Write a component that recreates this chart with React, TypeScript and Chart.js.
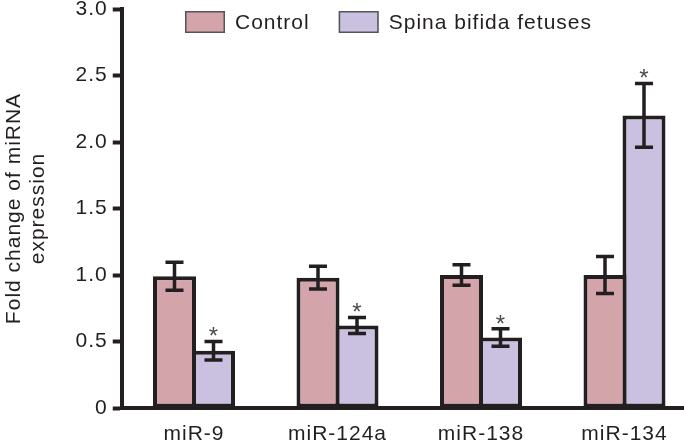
import React, { useEffect, useRef } from 'react';
import { Chart, registerables } from 'chart.js';

Chart.register(...registerables);

const categories = ['miR-9', 'miR-124a', 'miR-138', 'miR-134'];
const seriesLabels = ['Control', 'Spina bifida fetuses'];
const controlValues = [0.99, 0.98, 1.0, 1.0];
const controlErrors = [0.105, 0.085, 0.078, 0.14];
const spinaValues = [0.43, 0.62, 0.53, 2.2];
const spinaErrors = [0.07, 0.06, 0.065, 0.24];
const controlSignificant = [false, false, false, false];
const spinaSignificant = [true, true, true, true];
const yTitleLines = ['Fold change of miRNA', 'expression'];

const INK = '#231f20';
const FAMILY = '"Liberation Sans", Arial, Helvetica, sans-serif';
const FONT_SIZE = 21;
const SPACING = '1px';
const CONTROL_COLOR = '#d3a5aa';
const SPINA_COLOR = '#cac1e0';

const spacingPlugin = {
  id: 'letterSpacing',
  beforeUpdate(chart: any) {
    (chart.ctx as any).letterSpacing = SPACING;
  },
  beforeDraw(chart: any) {
    (chart.ctx as any).letterSpacing = SPACING;
  },
};

const errorBarPlugin = {
  id: 'errorBars',
  afterDatasetsDraw(chart: any) {
    const ctx = chart.ctx;
    const yScale = chart.scales.y;
    chart.data.datasets.forEach((ds: any, di: number) => {
      const meta = chart.getDatasetMeta(di);
      meta.data.forEach((bar: any, i: number) => {
        const v = ds.data[i];
        const e = ds.errors[i];
        const top = yScale.getPixelForValue(v + e);
        const bot = yScale.getPixelForValue(v - e);
        const x = bar.x;
        ctx.save();
        ctx.strokeStyle = INK;
        ctx.lineWidth = 3.5;
        ctx.lineCap = 'butt';
        ctx.beginPath();
        ctx.moveTo(x, top);
        ctx.lineTo(x, bot);
        ctx.moveTo(x - 9, top);
        ctx.lineTo(x + 9, top);
        ctx.moveTo(x - 9, bot);
        ctx.lineTo(x + 9, bot);
        ctx.stroke();
        if (ds.significant && ds.significant[i]) {
          (ctx as any).letterSpacing = '0px';
          ctx.fillStyle = '#4a4a4a';
          ctx.font = `24px ${FAMILY}`;
          ctx.textAlign = 'center';
          ctx.textBaseline = 'alphabetic';
          ctx.fillText('*', x, top - 11 + 0.58 * 24);
        }
        ctx.restore();
      });
    });
  },
};

const legendPlugin = {
  id: 'customLegend',
  afterDraw(chart: any) {
    const ctx = chart.ctx;
    let x = 185;
    const boxW = 40;
    const boxH = 22;
    const y0 = 11;
    ctx.save();
    (ctx as any).letterSpacing = SPACING;
    ctx.font = `${FONT_SIZE}px ${FAMILY}`;
    ctx.textBaseline = 'middle';
    ctx.textAlign = 'left';
    chart.data.datasets.forEach((ds: any) => {
      ctx.fillStyle = ds.backgroundColor;
      ctx.fillRect(x, y0, boxW, boxH);
      ctx.strokeStyle = '#555555';
      ctx.lineWidth = 1.5;
      ctx.strokeRect(x + 0.75, y0 + 0.75, boxW - 1.5, boxH - 1.5);
      ctx.fillStyle = INK;
      ctx.fillText(ds.label, x + boxW + 10, y0 + boxH / 2 + 1);
      x += boxW + 10 + ctx.measureText(ds.label).width + 29;
    });
    ctx.restore();
  },
};

export default function App() {
  const canvasRef = useRef<HTMLCanvasElement | null>(null);

  useEffect(() => {
    if (!canvasRef.current) return;
    Chart.defaults.font.family = FAMILY;
    const chart = new Chart(canvasRef.current, {
      type: 'bar',
      data: {
        labels: categories,
        datasets: [
          {
            label: seriesLabels[0],
            data: controlValues,
            errors: controlErrors,
            significant: controlSignificant,
            backgroundColor: CONTROL_COLOR,
            borderColor: INK,
            borderWidth: 4,
            borderSkipped: false,
            categoryPercentage: 0.5436,
            barPercentage: 1.1026,
          } as any,
          {
            label: seriesLabels[1],
            data: spinaValues,
            errors: spinaErrors,
            significant: spinaSignificant,
            backgroundColor: SPINA_COLOR,
            borderColor: INK,
            borderWidth: 4,
            borderSkipped: false,
            categoryPercentage: 0.5436,
            barPercentage: 1.1026,
          } as any,
        ],
      },
      options: {
        responsive: false,
        animation: false,
        devicePixelRatio: 1,
        layout: { padding: { left: 0, top: 9, right: 3.75, bottom: 0 } },
        plugins: {
          legend: { display: false },
          tooltip: { enabled: false },
        },
        scales: {
          x: {
            offset: true,
            grid: { display: false, drawTicks: false },
            border: { display: true, color: INK, width: 4 },
            ticks: {
              color: INK,
              font: { size: FONT_SIZE, family: FAMILY },
              padding: 14,
              maxRotation: 0,
            },
            afterFit: (scale: any) => {
              scale.height = 34;
            },
          },
          y: {
            min: 0,
            max: 3,
            grid: {
              display: true,
              drawOnChartArea: false,
              drawTicks: true,
              tickLength: 9.5,
              tickWidth: 4,
              tickColor: INK,
              color: INK,
            },
            border: { display: true, color: INK, width: 4 },
            ticks: {
              stepSize: 0.5,
              color: INK,
              font: { size: FONT_SIZE, family: FAMILY },
              padding: 5,
              callback: (v: any) => (Number(v) === 0 ? '0' : Number(v).toFixed(1)),
            },
            title: {
              display: true,
              text: yTitleLines,
              color: INK,
              font: { size: FONT_SIZE, family: FAMILY, lineHeight: 1.15 },
              padding: { top: 2, bottom: 0 },
            },
            afterFit: (scale: any) => {
              scale.width = 122.25;
              scale.paddingTop = 0;
              scale.paddingBottom = 0;
            },
          },
        },
      } as any,
      plugins: [spacingPlugin, errorBarPlugin, legendPlugin],
    });
    return () => chart.destroy();
  }, []);

  return (
    <div
      style={{
        position: 'absolute',
        left: 0,
        top: 0,
        width: 684,
        height: 442,
        overflow: 'hidden',
        background: '#ffffff',
      }}
    >
      <canvas
        ref={canvasRef}
        width={700}
        height={442}
        style={{ display: 'block', width: 700, height: 442 }}
      />
    </div>
  );
}
